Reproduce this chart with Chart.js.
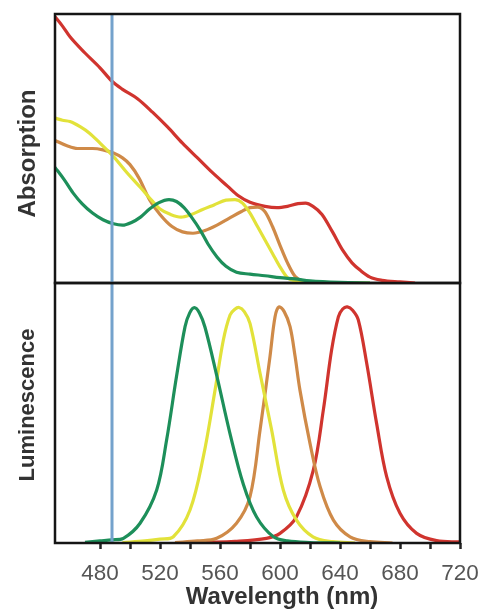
<!DOCTYPE html>
<html><head><meta charset="utf-8">
<script src="https://cdn.jsdelivr.net/npm/chart.js@4/dist/chart.umd.min.js"></script>
<style>html,body{margin:0;padding:0;background:#fff;overflow:hidden;width:483px;height:612px}
canvas{position:absolute;left:0;top:0}</style></head>
<body>
<canvas id="botChart" width="564" height="612"></canvas>
<canvas id="topChart" width="483" height="612"></canvas>
<script>
// ---- data ----
const excitationNm = 488;
const xTickValues = [480,500,520,540,560,580,600,620,640,660,680,700,720];
const xLabelValues = [480,520,560,600,640,680,720];

const absRed = [[450,0.99],[455,0.955],[460,0.915],[470,0.855],[480,0.8],[488,0.75],[495,0.72],[505,0.685],[515,0.635],[525,0.58],[535,0.52],[545,0.465],[555,0.41],[565,0.36],[572,0.325],[580,0.3],[590,0.285],[598,0.28],[605,0.285],[612,0.295],[617,0.297],[622,0.285],[628,0.255],[635,0.19],[642,0.12],[648,0.075],[654,0.045],[660,0.022],[668,0.01],[680,0.004],[690,0]];
const absOrange = [[450,0.53],[458,0.51],[465,0.5],[475,0.5],[482,0.495],[489,0.483],[495,0.465],[500,0.44],[506,0.39],[513,0.31],[520,0.255],[528,0.21],[535,0.19],[542,0.185],[550,0.195],[558,0.215],[566,0.24],[574,0.265],[580,0.28],[585,0.282],[590,0.265],[595,0.21],[600,0.14],[605,0.075],[610,0.025],[615,0.008],[625,0.003],[640,0]];
const absYellow = [[450,0.613],[455,0.605],[460,0.6],[467,0.58],[473,0.557],[480,0.52],[489,0.47],[498,0.41],[507,0.355],[514,0.31],[520,0.275],[527,0.255],[534,0.245],[541,0.255],[548,0.272],[556,0.29],[564,0.308],[570,0.31],[575,0.297],[580,0.26],[585,0.21],[590,0.16],[595,0.11],[600,0.06],[605,0.02],[612,0.006],[625,0.002],[660,0]];
const absGreen = [[450,0.43],[456,0.385],[462,0.335],[468,0.295],[475,0.26],[482,0.235],[489,0.22],[495,0.215],[501,0.225],[507,0.245],[513,0.275],[519,0.298],[526,0.31],[531,0.303],[536,0.28],[541,0.245],[547,0.195],[552,0.145],[558,0.097],[564,0.062],[571,0.04],[580,0.033],[590,0.027],[600,0.02],[610,0.015],[620,0.008],[640,0.002],[660,0]];

const lumGreen = [[470,0.003],[480,0.008],[488,0.012],[495.6,0.018],[506.7,0.076],[517.8,0.204],[524.4,0.396],[531,0.64],[536.7,0.832],[539.8,0.885],[542.9,0.905],[546.3,0.885],[550,0.83],[557.8,0.645],[566.7,0.42],[575.6,0.225],[584.4,0.1],[595.6,0.024],[605,0.008],[620,0.002],[640,0]];
const lumYellow = [[495,0.002],[510,0.008],[520,0.015],[528.9,0.024],[540,0.127],[548.9,0.332],[556.7,0.588],[562.2,0.78],[566.7,0.877],[569.7,0.898],[572.7,0.906],[576.2,0.89],[580,0.845],[586.7,0.653],[594.4,0.435],[602.2,0.204],[611,0.088],[622,0.024],[635,0.005],[650,0]];
const lumOrange = [[530,0.002],[545,0.008],[557.8,0.018],[571,0.076],[580,0.178],[586.7,0.435],[593.3,0.716],[596.7,0.87],[599.3,0.908],[602.8,0.89],[606.7,0.832],[610,0.72],[613.3,0.588],[620,0.383],[626.7,0.217],[635.6,0.088],[646.7,0.024],[660,0.005],[675,0]];
const lumRed = [[550,0.002],[570,0.006],[591,0.018],[600,0.037],[611,0.101],[622.2,0.28],[628.9,0.512],[634.4,0.742],[638.9,0.87],[641.8,0.9],[644.9,0.908],[648.4,0.895],[652.2,0.858],[657.8,0.691],[664.4,0.46],[671.1,0.255],[680,0.114],[691.1,0.037],[704.4,0.009],[720,0.004]];

const excitationLine = [[excitationNm,0],[excitationNm,1]];

// ---- styles ----
const C = {red:'#d0342e', orange:'#cf8a48', yellow:'#e2e23a', green:'#1d8f5a', blue:'#74a2cc'};
const FONT = '"Liberation Sans", Arial, sans-serif';
const pts = a => a.map(p => ({x:p[0], y:p[1]}));
const ds = (arr, color, w) => ({data: pts(arr), borderColor: color, borderWidth: w||3.2, pointRadius: 0, fill: false, tension: 0.4, cubicInterpolationMode: 'monotone'});
const dsSmooth = (arr, color) => ({data: pts(arr), borderColor: color, borderWidth: 3.2, pointRadius: 0, fill: false, tension: 0.35, cubicInterpolationMode: 'default'});

const boxPlugin = {
  id: 'box',
  afterDraw(chart) {
    const {ctx, chartArea: a} = chart;
    ctx.save();
    ctx.strokeStyle = '#151515';
    ctx.lineWidth = 2.5;
    ctx.strokeRect(a.left, a.top, a.right - a.left, a.bottom - a.top);
    ctx.restore();
  }
};

const hidden = extra => Object.assign({
  display: true, grid: {display: false}, border: {display: false}, ticks: {display: false}
}, extra);

// left label box: width = lineHeight + padTop ; plot left edge at 55
const absFont = 24, absPad = 13.6;
const lumFont = 22, lumPad = 14.8;

new Chart(document.getElementById('topChart'), {
  type: 'line',
  data: {datasets: [
    ds(excitationLine, C.blue, 3),
    ds(absGreen, C.green),
    ds(absYellow, C.yellow),
    ds(absOrange, C.orange),
    ds(absRed, C.red)
  ]},
  options: {
    responsive: false, animation: false, events: [],
    layout: {padding: {top: 14, bottom: 612 - 293, left: 0, right: 23}},
    plugins: {
      legend: {display: false}, tooltip: {enabled: false},
      title: {display: true, position: 'left', text: 'Absorption', color: '#333',
        font: {family: FONT, size: absFont, weight: 'bold'}, padding: {top: absPad, bottom: 0}}
    },
    scales: {
      x: hidden({type: 'linear', min: 450, max: 720, position: 'bottom',
        afterFit: s => { s.height = 10; s.paddingLeft = 0; s.paddingRight = 0; }}),
      y: hidden({type: 'linear', min: 0, max: 1,
        afterFit: s => { s.width = 55 - (absFont * 1.2 + absPad); }})
    }
  },
  plugins: [boxPlugin]
});

new Chart(document.getElementById('botChart'), {
  type: 'line',
  data: {datasets: [
    ds(excitationLine, C.blue, 3),
    dsSmooth(lumGreen, C.green),
    dsSmooth(lumYellow, C.yellow),
    dsSmooth(lumOrange, C.orange),
    dsSmooth(lumRed, C.red)
  ]},
  options: {
    responsive: false, animation: false, events: [],
    layout: {padding: {top: 198, bottom: 0, left: 0, right: 0}},
    plugins: {
      legend: {display: false}, tooltip: {enabled: false},
      subtitle: {display: true, position: 'left', text: 'Luminescence', color: '#333',
        font: {family: FONT, size: lumFont, weight: 'bold'}, padding: {top: lumPad, bottom: 0}},
      title: {display: true, position: 'bottom', text: 'Wavelength (nm)', color: '#333',
        font: {family: FONT, size: 24, weight: 'bold'}, padding: {top: 0, bottom: 0}}
    },
    scales: {
      x: {
        type: 'linear', min: 450, max: 720,
        afterBuildTicks: s => { s.ticks = xTickValues.map(v => ({value: v})); },
        afterFit: s => { s.height = 612 - 543 - 24 * 1.2; s.paddingLeft = 0; s.paddingRight = 0; },
        grid: {display: true, drawOnChartArea: false, drawTicks: true, tickLength: 6, tickWidth: 2.5, tickColor: '#222'},
        border: {display: false},
        ticks: {autoSkip: false, maxRotation: 0, padding: 11, color: '#555',
          font: {family: FONT, size: 22.5},
          callback: v => xLabelValues.includes(v) ? String(v) : ''}
      },
      xTop: hidden({type: 'linear', min: 450, max: 720, position: 'top',
        afterFit: s => { s.height = 283 - 198; s.paddingLeft = 0; s.paddingRight = 0; }}),
      y: hidden({type: 'linear', min: 0, max: 1, position: 'left',
        afterFit: s => { s.width = 55 - (lumFont * 1.2 + lumPad); }}),
      yRight: hidden({type: 'linear', min: 0, max: 1, position: 'right',
        afterFit: s => { s.width = 564 - 460; }})
    }
  },
  plugins: [boxPlugin]
});
</script>
</body></html>
